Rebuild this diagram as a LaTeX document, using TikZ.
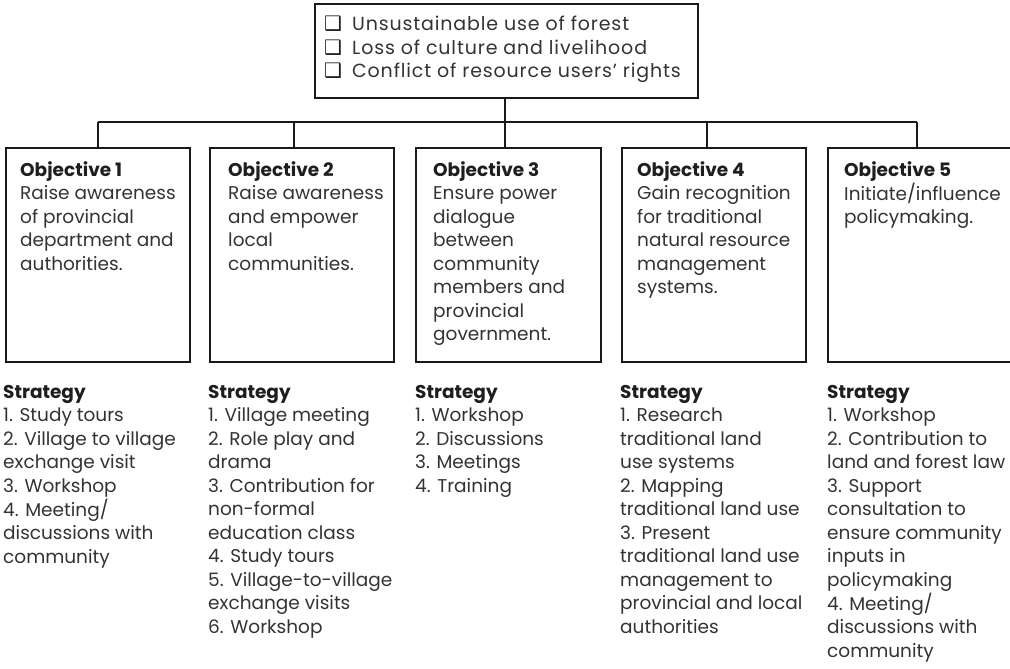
\documentclass[tikz,border=0pt]{standalone}
\usepackage{fontspec}
\setmainfont{Poppins}
\newfontfamily\topfont[LetterSpace=4.5]{Poppins}
\newfontfamily\symfont{DejaVu Sans}
\usetikzlibrary{calc}
\definecolor{txt}{HTML}{333333}
\definecolor{ttl}{HTML}{1E1E1E}
\definecolor{ln}{HTML}{1A1A1A}
\newcommand\mylines[1]{\begin{tabular}[t]{@{}l@{}}#1\end{tabular}}
\newcommand\ttlf[1]{\textcolor{ttl}{\textbf{#1}}}
\newcommand\cbx{\makebox[28pt][l]{\textcolor{ttl}{\symfont\bfseries\fontsize{20}{20}\selectfont\char"2751}}}
\begin{document}
\begin{tikzpicture}[x=1pt,y=-1pt,
  objbox/.style={draw=ln, line width=2.4pt, rectangle, inner sep=0pt,
    minimum width=184pt, minimum height=214pt, anchor=north west},
  topbox/.style={draw=ln, line width=2.4pt, rectangle, inner sep=0pt,
    minimum width=383pt, minimum height=94pt, anchor=north west},
  bodytext/.style={anchor=base west, inner sep=0pt, text=txt,
    font=\fontsize{18.5}{23.5}\selectfont},
  toptext/.style={anchor=base west, inner sep=0pt, text=txt,
    font=\topfont\fontsize{19}{23.5}\selectfont},
  conn/.style={draw=ln, line width=2.2pt}]
\useasboundingbox (0,0) rectangle (1010,669);

% top box
\node[topbox] (top) at (314,3) {};
\node[toptext] (toptext) at (324,31)
  {\mylines{\cbx Unsustainable use of forest\\
            \cbx Loss of culture and livelihood\\
            \cbx Conflict of resource users’ rights}};

% objective boxes
\node[objbox] (ob1) at (5,147) {};
\node[objbox] (ob2) at (209,147) {};
\node[objbox, minimum width=185pt] (ob3) at (415,147) {};
\node[objbox] (ob4) at (621,147) {};
\node[objbox, minimum width=190pt] (ob5) at (827,147) {};

\node[bodytext] (ot1) at (20,176)
  {\mylines{\ttlf{Objective 1}\\Raise awareness\\of provincial\\department and\\authorities.}};
\node[bodytext] (ot2) at (228,176)
  {\mylines{\ttlf{Objective 2}\\Raise awareness\\and empower\\local\\communities.}};
\node[bodytext] (ot3) at (433,176)
  {\mylines{\ttlf{Objective 3}\\Ensure power\\dialogue\\between\\community\\members and\\provincial\\government.}};
\node[bodytext] (ot4) at (637,176)
  {\mylines{\ttlf{Objective 4}\\Gain recognition\\for traditional\\natural resource\\management\\systems.}};
\node[bodytext] (ot5) at (844,176)
  {\mylines{\ttlf{Objective 5}\\Initiate/influence\\policymaking.}};

% strategies
\node[bodytext] (st1) at (3,398)
  {\mylines{\ttlf{Strategy}\\1. Study tours\\2. Village to village\\exchange visit\\3. Workshop\\4. Meeting/\\discussions with\\community}};
\node[bodytext] (st2) at (208,398)
  {\mylines{\ttlf{Strategy}\\1. Village meeting\\2. Role play and\\drama\\3. Contribution for\\non-formal\\education class\\4. Study tours\\5. Village-to-village\\exchange visits\\6. Workshop}};
\node[bodytext] (st3) at (415,398)
  {\mylines{\ttlf{Strategy}\\1. Workshop\\2. Discussions\\3. Meetings\\4. Training}};
\node[bodytext] (st4) at (620,398)
  {\mylines{\ttlf{Strategy}\\1. Research\\traditional land\\use systems\\2. Mapping\\traditional land use\\3. Present\\traditional land use\\management to\\provincial and local\\authorities}};
\node[bodytext] (st5) at (827,398)
  {\mylines{\ttlf{Strategy}\\1. Workshop\\2. Contribution to\\land and forest law\\3. Support\\consultation to\\ensure community\\inputs in\\policymaking\\4. Meeting/\\discussions with\\community}};

% connectors
\coordinate (j1) at (98,122);
\coordinate (j2) at (294,122);
\coordinate (j3) at (505,122);
\coordinate (j4) at (707,122);
\coordinate (j5) at (917,122);
\draw[conn] (top.south -| j3) -- (j3);
\draw[conn] (j1) -- (j5);
\draw[conn] (j1) -- (j1 |- ob1.north);
\draw[conn] (j2) -- (j2 |- ob2.north);
\draw[conn] (j3) -- (j3 |- ob3.north);
\draw[conn] (j4) -- (j4 |- ob4.north);
\draw[conn] (j5) -- (j5 |- ob5.north);
\end{tikzpicture}
\end{document}
